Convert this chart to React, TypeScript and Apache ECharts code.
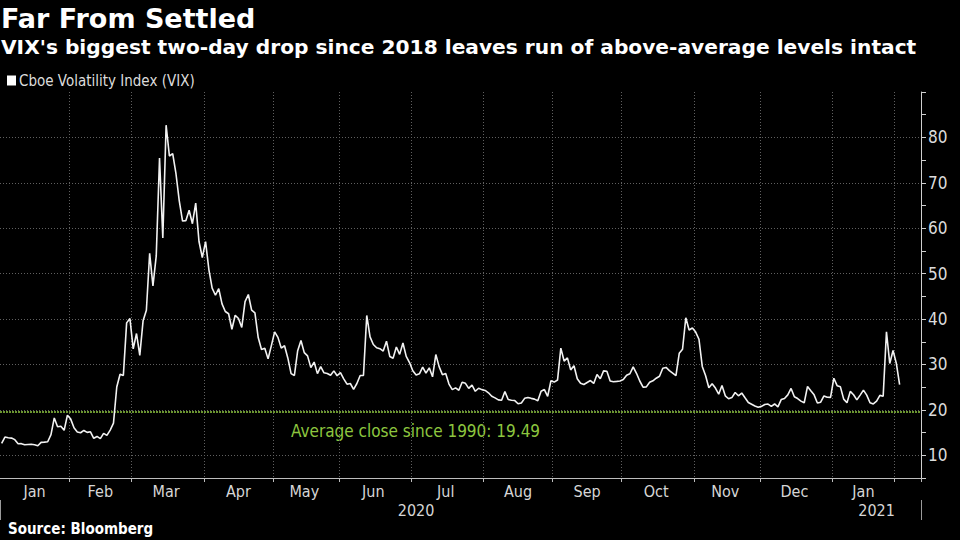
import React, { useEffect, useRef } from "react";
import * as echarts from "echarts";

const FONT = "'DejaVu Sans Condensed', 'Liberation Sans Narrow', 'Open Sans', sans-serif";
const TITLE_FONT = "'DejaVu Sans', Verdana, sans-serif";

// Market holidays (NYSE) inside the charted window
const holidays = [
  "2020-01-20", "2020-02-17", "2020-04-10", "2020-05-25", "2020-07-03",
  "2020-09-07", "2020-11-26", "2020-12-25", "2021-01-01", "2021-01-18",
];
const firstDay = "2020-01-02";
const lastDay = "2021-02-10";

const monthNames = ["Jan", "Feb", "Mar", "Apr", "May", "Jun", "Jul", "Aug", "Sep", "Oct", "Nov", "Dec"];

// VIX closes, one list per month
const vixJan2020 = [12.6, 14.02, 13.85, 13.79, 13.45, 12.54, 12.56, 12.32, 12.39, 12.42, 12.32, 12.10, 12.85, 12.91, 12.98, 14.56, 18.23, 16.28, 16.39, 15.49, 18.84];
const vixFeb2020 = [17.97, 16.05, 15.15, 14.96, 15.47, 15.04, 15.18, 13.74, 14.15, 13.68, 14.83, 14.38, 15.56, 17.08, 25.03, 27.85, 27.56, 39.16, 40.11];
const vixMar2020 = [33.42, 36.82, 31.99, 39.62, 41.94, 54.46, 47.30, 53.90, 75.47, 57.83, 82.69, 75.91, 76.45, 72.00, 66.04, 61.59, 61.67, 63.95, 61.00, 65.54, 57.08, 53.54];
const vixApr2020 = [57.06, 50.91, 46.80, 45.24, 46.70, 43.35, 41.67, 41.17, 37.76, 40.84, 40.11, 38.15, 43.83, 45.41, 41.98, 41.38, 35.93, 33.29, 33.57, 31.23, 34.15];
const vixMay2020 = [37.19, 35.97, 33.61, 34.12, 31.44, 27.98, 27.57, 33.04, 35.28, 32.61, 31.89, 29.30, 30.53, 27.99, 29.53, 28.16, 28.01, 27.62, 28.59, 27.51];
const vixJun2020 = [28.23, 26.84, 25.66, 25.81, 24.52, 25.81, 27.57, 27.57, 40.79, 36.09, 34.40, 33.67, 33.47, 32.94, 35.12, 31.77, 31.37, 33.84, 32.22, 34.73, 31.78, 30.43];
const vixJul2020 = [28.62, 27.68, 27.94, 29.43, 28.08, 29.26, 27.29, 32.19, 29.52, 27.76, 28.00, 25.68, 24.46, 24.84, 24.32, 26.08, 25.84, 24.74, 25.44, 24.10, 24.76, 24.46];
const vixAug2020 = [24.28, 23.76, 23.00, 22.65, 22.21, 22.13, 24.03, 22.28, 22.13, 22.05, 21.35, 21.51, 22.54, 22.72, 22.54, 22.37, 22.03, 24.10, 24.47, 22.96, 26.41];
const vixSep2020 = [26.12, 26.57, 33.60, 30.75, 31.46, 28.81, 29.71, 26.87, 25.85, 25.59, 26.04, 26.46, 25.83, 27.78, 26.86, 28.58, 28.51, 26.38, 26.19, 26.27, 26.37];
const vixOct2020 = [26.70, 27.63, 27.96, 29.48, 28.06, 26.36, 25.00, 25.07, 26.07, 26.40, 26.97, 27.41, 29.18, 29.35, 28.65, 28.11, 27.55, 32.46, 33.35, 40.28, 37.59, 38.02];
const vixNov2020 = [37.13, 35.55, 29.57, 27.58, 24.86, 25.75, 24.80, 23.45, 25.35, 23.10, 22.45, 22.71, 23.84, 23.11, 23.70, 22.66, 21.64, 21.25, 20.84, 20.57];
const vixDec2020 = [20.77, 21.17, 21.28, 20.79, 21.30, 20.68, 22.27, 22.52, 23.31, 24.72, 22.89, 22.50, 21.93, 21.57, 25.16, 24.23, 23.31, 21.53, 21.70, 23.08, 22.77, 22.75];
const vixJan2021 = [26.97, 25.34, 25.07, 22.37, 21.56, 24.08, 23.33, 22.21, 23.25, 24.34, 23.24, 21.58, 21.32, 21.91, 23.19, 23.02, 37.21, 30.21, 33.09];
const vixFeb2021 = [30.24, 25.56];

const vixValues = [
  ...vixJan2020, ...vixFeb2020, ...vixMar2020, ...vixApr2020, ...vixMay2020, ...vixJun2020,
  ...vixJul2020, ...vixAug2020, ...vixSep2020, ...vixOct2020, ...vixNov2020, ...vixDec2020,
  ...vixJan2021, ...vixFeb2021,
];

const averageSince1990 = 19.49;
const averageLabel = "Average close since 1990: 19.49";
const yTickLabels = [10, 20, 30, 40, 50, 60, 70, 80];

const titleText = "Far From Settled";
const subtitleText = "VIX's biggest two-day drop since 2018 leaves run of above-average levels intact";
const seriesName = "Cboe Volatility Index (VIX)";
const sourceText = "Source: Bloomberg";

function tradingDays(): string[] {
  const out: string[] = [];
  const d = new Date(firstDay + "T00:00:00Z");
  const end = new Date(lastDay + "T00:00:00Z");
  while (d <= end) {
    const dow = d.getUTCDay();
    const s = d.toISOString().slice(0, 10);
    if (dow !== 0 && dow !== 6 && holidays.indexOf(s) < 0) out.push(s);
    d.setUTCDate(d.getUTCDate() + 1);
  }
  return out;
}

export default function App() {
  const ref = useRef<HTMLDivElement>(null);

  useEffect(() => {
    if (!ref.current) return;
    const chart = echarts.init(ref.current, null, { renderer: "svg" });

    const dates = tradingDays();
    const monthKey = (s: string) => s.slice(0, 7);
    const monthStarts = new Set<number>();
    const labelIdx = new Set<number>();
    const groups: { key: string; s: number; n: number }[] = [];
    dates.forEach((d, i) => {
      if (i === 0 || monthKey(d) !== monthKey(dates[i - 1])) {
        groups.push({ key: monthKey(d), s: i, n: 1 });
        if (i > 0) monthStarts.add(i);
      } else groups[groups.length - 1].n++;
    });
    const lastDataKey = monthKey(dates[vixValues.length - 1]);
    groups.forEach((g) => {
      if (g.key < lastDataKey) labelIdx.add(g.s + Math.floor((g.n - 1) / 2));
    });
    const yearStart = new Set<number>();
    const yearLabel = new Set<number>();
    const yearGroups: { y: string; s: number; n: number }[] = [];
    dates.forEach((d, i) => {
      const y = d.slice(0, 4);
      if (i === 0 || y !== dates[i - 1].slice(0, 4)) {
        yearGroups.push({ y, s: i, n: 1 });
        if (i > 0) yearStart.add(i);
      } else yearGroups[yearGroups.length - 1].n++;
    });
    yearGroups.forEach((g) => yearLabel.add(g.s + Math.floor((g.n - 1) / 2)));

    const gridLine = { show: true, lineStyle: { color: "#606060", type: [1, 2] as any, width: 1 } };

    chart.setOption({
      animation: false,
      backgroundColor: "#000",
      title: [
        {
          text: titleText, left: 1, top: 5, padding: 0,
          textStyle: { color: "#fff", fontSize: 27, fontWeight: "bold", fontFamily: TITLE_FONT },
        },
        {
          text: subtitleText, left: 1, top: 37, padding: 0,
          textStyle: { color: "#fff", fontSize: 20.2, fontWeight: "bold", fontFamily: TITLE_FONT },
        },
      ],
      legend: {
        left: 7, top: 73, padding: 0, icon: "rect", itemWidth: 9, itemHeight: 10, itemGap: 10,
        textStyle: { color: "#dcdcdc", fontSize: 15, fontFamily: FONT, padding: [0, 0, 0, -2] },
        data: [seriesName],
      },
      grid: { left: -2, right: 39, top: 92, bottom: 62, containLabel: false },
      xAxis: [
        {
          type: "category", data: dates, boundaryGap: true,
          axisLine: { show: true, lineStyle: { color: "#bdbdbd", width: 1 } },
          axisTick: { show: true, length: 4, interval: (i: number) => monthStarts.has(i), lineStyle: { color: "#bdbdbd" } },
          splitLine: { ...gridLine, interval: (i: number) => monthStarts.has(i) },
          axisLabel: {
            interval: (i: number) => labelIdx.has(i),
            formatter: (v: string) => monthNames[parseInt(v.slice(5, 7), 10) - 1],
            color: "#d6d6d6", fontSize: 16, fontFamily: FONT, margin: 5,
          },
        },
        {
          type: "category", data: dates, boundaryGap: true, position: "bottom", offset: 22,
          axisLine: { show: false },
          axisTick: { show: true, length: 20, interval: (i: number) => yearStart.has(i), lineStyle: { color: "#9a9a9a" } },
          splitLine: { show: false },
          axisLabel: {
            interval: (i: number) => yearLabel.has(i),
            formatter: (v: string) => v.slice(0, 4),
            color: "#d6d6d6", fontSize: 16, fontFamily: FONT, margin: 2,
          },
        },
      ],
      yAxis: {
        type: "value", position: "right", min: 5, max: 90, interval: 5,
        axisLine: { show: true, lineStyle: { color: "#cfcfcf", width: 1 } },
        axisTick: { show: true, length: 5, lineStyle: { color: "#cfcfcf" } },
        axisLabel: {
          formatter: (v: number) => (yTickLabels.indexOf(v) >= 0 ? String(v) : ""),
          color: "#dcdcdc", fontSize: 17, fontFamily: FONT, margin: 7,
        },
        splitLine: { show: true, showMaxLine: false, lineStyle: { color: ["rgba(0,0,0,0)", "#606060"], type: [1, 2] as any, width: 1 } },
      },
      series: [
        {
          name: seriesName, type: "line", data: vixValues, xAxisIndex: 0, yAxisIndex: 0,
          symbol: "none", lineStyle: { color: "#f2f2f2", width: 1.6 }, itemStyle: { color: "#fff" },
          z: 5,
          markLine: {
            silent: true, symbol: "none", animation: false,
            label: { show: false },
            lineStyle: { color: "#8dc63f", type: [2, 1] as any, width: 1.6 },
            data: [{ yAxis: averageSince1990 }],
          },
        },
      ],
      graphic: [
        {
          type: "text", left: 291, top: 422,
          style: { text: averageLabel, fill: "#8dc63f", fontSize: 17, fontFamily: FONT },
        },
        {
          type: "text", left: 8, top: 521,
          style: { text: sourceText, fill: "#fff", fontSize: 15, fontWeight: "bold", fontFamily: FONT },
        },
      ],
    });

    return () => chart.dispose();
  }, []);

  return (
    <div
      ref={ref}
      style={{ position: "absolute", left: 0, top: 0, width: 960, height: 540, background: "#000" }}
    />
  );
}
